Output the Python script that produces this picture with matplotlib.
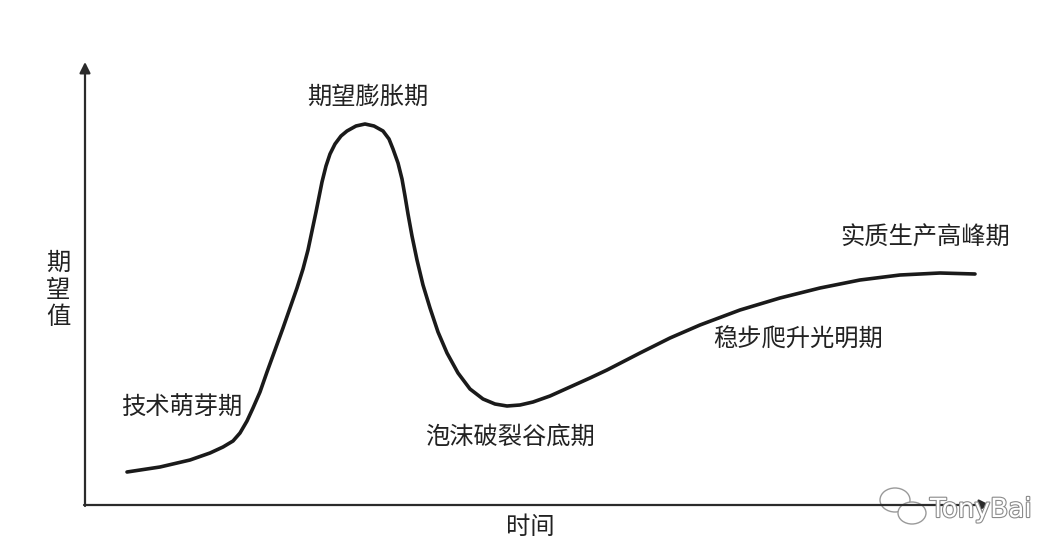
import matplotlib.pyplot as plt
import matplotlib.patheffects as pe
from matplotlib.patches import Ellipse

plt.rcParams['font.family'] = ['Noto Sans CJK SC', 'DejaVu Sans']

# curve points (pixel coordinates, y downwards)
curve_x = [127, 160, 190, 210, 223, 233, 240, 247, 253, 260, 267, 275, 283, 290,
           297, 303, 308, 312, 316, 319, 322, 326, 330, 335, 341, 347, 356, 365,
           374, 383, 389, 393, 398, 402, 405, 408, 412, 417, 423, 430, 438, 447,
           458, 470, 483, 495, 507, 520, 533, 550, 570, 590, 607, 640, 670, 700,
           740, 780, 820, 860, 900, 940, 975]
curve_y = [472, 467, 460, 453, 447, 441, 433, 421, 408, 392, 372, 350, 328, 308,
           288, 269, 250, 231, 212, 197, 182, 166, 154, 144, 136, 131, 126, 124,
           126, 131, 139, 149, 163, 179, 196, 214, 236, 260, 285, 308, 332, 353,
           373, 389, 399, 404, 406, 405, 402, 396, 387, 378, 370, 353, 338, 325,
           310, 298, 288, 280, 275, 273, 274]

phase_labels = ['技术萌芽期', '期望膨胀期', '泡沫破裂谷底期', '稳步爬升光明期', '实质生产高峰期']
label_x = [182, 368, 510, 798, 925]
label_y = [408, 97, 437, 340, 238]

fig = plt.figure(figsize=(10.64, 5.6), dpi=100)
ax = fig.add_axes([0, 0, 1, 1])
ax.set_xlim(0, 1064)
ax.set_ylim(560, 0)
ax.axis('off')

axis_color = '#2b2b2b'
# x axis and y axis with arrow heads
ax.annotate('', xy=(990, 505), xytext=(84, 505),
            arrowprops=dict(arrowstyle='-|>', color=axis_color, lw=1.6,
                            mutation_scale=16, shrinkA=0, shrinkB=0))
ax.annotate('', xy=(85, 62), xytext=(85, 506),
            arrowprops=dict(arrowstyle='-|>', color=axis_color, lw=1.6,
                            mutation_scale=16, shrinkA=0, shrinkB=0))

ax.plot(curve_x, curve_y, color='#1a1a1a', lw=2.6, solid_capstyle='round',
        solid_joinstyle='round')

for txt, x, y in zip(phase_labels, label_x, label_y):
    ax.text(x, y, txt, fontsize=17.5, color='#222222', ha='center', va='center')

ax.text(58, 290, '期\n望\n值', fontsize=17.5, color='#222222', ha='center',
        va='center', linespacing=1.05)
ax.text(530, 527, '时间', fontsize=17.5, color='#222222', ha='center', va='center')

# watermark
for cx, cy, w, h in [(895, 500, 30, 24), (912, 513, 28, 22)]:
    ax.add_patch(Ellipse((cx, cy), w, h, facecolor='white', edgecolor='#9a9a9a', lw=1))
ax.text(930, 510, 'TonyBai', fontsize=19, color='white', ha='left', va='center',
        family='DejaVu Sans',
        path_effects=[pe.withStroke(linewidth=1.6, foreground='#8a8a8a')])

fig.savefig('out.png', dpi=100, facecolor='white')
